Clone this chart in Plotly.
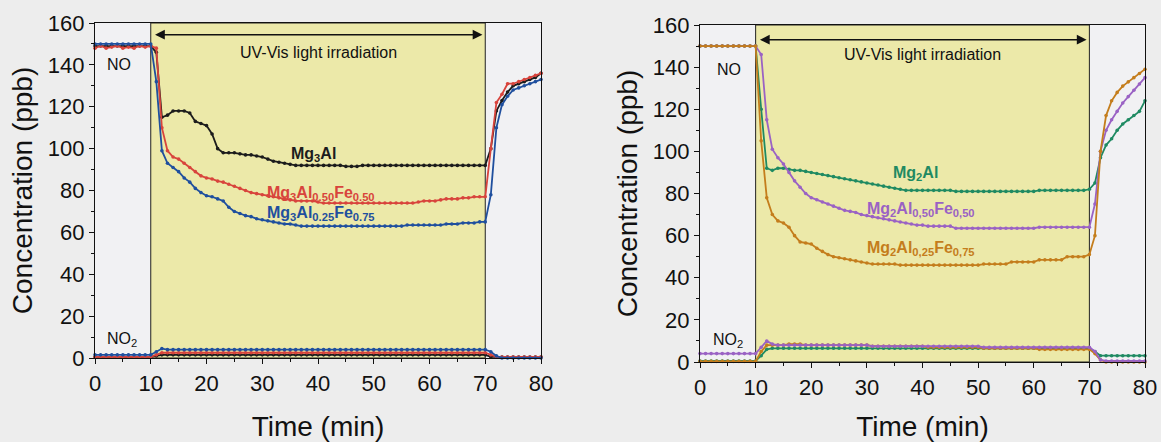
import plotly.graph_objects as go

# ---------------- data ----------------
time_min = list(range(0, 81))

# Left panel (Mg3Al series), NO
no_mg3al = [149, 149, 149, 149, 149, 149, 149, 149, 149, 149, 149,
            146, 115, 116, 118, 118, 118, 117, 113, 112, 111,
            107, 100, 98, 98, 98, 97.5, 97, 97, 96.5, 96,
            95, 94, 93.5, 93, 92.5, 92, 92, 92, 92, 92,
            92, 92, 92, 92, 91.5, 91.5, 91.5, 92, 92, 92,
            92, 92, 92, 92, 92, 92, 92, 92, 92, 92,
            92, 92, 92, 92, 92, 92, 92, 92, 92, 92,
            100, 118, 123, 127, 130, 131, 132, 133, 134, 136]
no_mg3al_fe050 = [148, 149, 148, 148.5, 149, 148, 148.5, 148, 149, 148.5, 149,
                  148, 110, 99, 96, 95, 93, 91, 89, 87, 86,
                  85.5, 84.5, 84, 83, 82, 81, 80, 79, 78.5, 78,
                  77.5, 77, 76.5, 76, 75.5, 75, 75, 75, 75, 74.5,
                  74, 74, 74, 74, 74, 74, 74, 74, 74, 74,
                  74, 74, 74, 74, 74, 74, 74, 74.5, 75, 75,
                  75, 75.5, 76, 76, 76, 76.5, 76.5, 77, 77, 77,
                  100, 122, 126, 131, 131, 132, 133, 134, 135, 136]
no_mg3al_fe075 = [150, 150, 150, 150, 150, 150, 150, 150, 150, 150, 150,
                  132, 99, 93, 91, 89, 86, 84, 81, 79, 77.5,
                  77, 76, 75, 72, 70, 69, 68, 67.5, 66.5, 66,
                  65.5, 65, 64.5, 64, 64, 63.5, 63, 63, 63, 63,
                  63, 63, 63, 63, 63, 63, 63, 63, 63, 63,
                  63, 63, 63, 63, 63, 63.5, 63.5, 63.5, 63.5, 63.5,
                  63.5, 63.5, 64, 64, 64, 64.5, 64.5, 64.5, 65, 65,
                  78, 110, 121, 125, 128, 129, 130, 131, 132, 133]

# Left panel, NO2
no2_mg3al = [0.5, 0.5, 0.5, 0.5, 0.5, 0.5, 0.5, 0.5, 0.5, 0.5, 0.5,
             1, 1.5, 1.5, 1.5, 1.5, 1.5, 1.5, 1.5, 1.5, 1.5,
             1.5, 1.5, 1.5, 1.5, 1.5, 1.5, 1.5, 1.5, 1.5, 1.5,
             1.5, 1.5, 1.5, 1.5, 1.5, 1.5, 1.5, 1.5, 1.5, 1.5,
             1.5, 1.5, 1.5, 1.5, 1.5, 1.5, 1.5, 1.5, 1.5, 1.5,
             1.5, 1.5, 1.5, 1.5, 1.5, 1.5, 1.5, 1.5, 1.5, 1.5,
             1.5, 1.5, 1.5, 1.5, 1.5, 1.5, 1.5, 1.5, 1.5, 1.5,
             0.5, 0.5, 0.5, 0.5, 0.5, 0.5, 0.5, 0.5, 0.5, 0.5]
no2_mg3al_fe050 = [0.5, 0.5, 0.5, 0.5, 0.5, 0.5, 0.5, 0.5, 0.5, 0.5, 0.5,
                   1.5, 2.5, 2.5, 2.5, 2.5, 2.5, 2.5, 2.5, 2.5, 2.5,
                   2.5, 2.5, 2.5, 2.5, 2.5, 2.5, 2.5, 2.5, 2.5, 2.5,
                   2.5, 2.5, 2.5, 2.5, 2.5, 2.5, 2.5, 2.5, 2.5, 2.5,
                   2.5, 2.5, 2.5, 2.5, 2.5, 2.5, 2.5, 2.5, 2.5, 2.5,
                   2.5, 2.5, 2.5, 2.5, 2.5, 2.5, 2.5, 2.5, 2.5, 2.5,
                   2.5, 2.5, 2.5, 2.5, 2.5, 2.5, 2.5, 2.5, 2.5, 2.5,
                   1.5, 0.5, 0.5, 0.5, 0.5, 0.5, 0.5, 0.5, 0.5, 0.5]
no2_mg3al_fe075 = [1.5, 1.5, 1.5, 1.5, 1.5, 1.5, 1.5, 1.5, 1.5, 1.5, 1.5,
                   3, 4.5, 4, 4, 4, 4, 4, 4, 4, 4,
                   4, 4, 4, 4, 4, 4, 4, 4, 4, 4,
                   4, 4, 4, 4, 4, 4, 4, 4, 4, 4,
                   4, 4, 4, 4, 4, 4, 4, 4, 4, 4,
                   4, 4, 4, 4, 4, 4, 4, 4, 4, 4,
                   4, 4, 4, 4, 4, 4, 4, 4, 4, 4,
                   3, 1, 0, 0, 0, 0, 0, 0, 0, 0]

# Right panel (Mg2Al series), NO
no_mg2al = [150, 150, 150, 150, 150, 150, 150, 150, 150, 150, 150,
            120, 92, 91, 92, 92, 91.5, 91, 91, 90.5, 90,
            89.5, 89, 88.5, 88, 87.5, 87, 86.5, 86, 85.5, 85,
            84.5, 84, 83.5, 83, 82.5, 82, 81.5, 81.5, 81.5, 81.5,
            81.5, 81.5, 81.5, 81.5, 81.5, 81, 81, 81, 81, 81,
            81, 81, 81, 81, 81, 81, 81, 81, 81, 81,
            81.5, 81.5, 81.5, 81.5, 81.5, 81.5, 81.5, 81.5, 81.5, 82,
            85, 97, 103, 106, 110, 113, 115, 117, 119, 124]
no_mg2al_fe050 = [150, 150, 150, 150, 150, 150, 150, 150, 150, 150, 150,
                  146, 115, 101, 97, 94, 90, 86, 83, 80, 78,
                  77, 76, 75, 74, 73, 72, 71.5, 71, 70, 69.5,
                  69, 68.5, 68, 67.5, 67, 66.5, 66, 65.5, 65, 65,
                  64.5, 64.5, 64.5, 64.5, 64.5, 63.5, 63.5, 63.5, 63.5, 63.5,
                  63.5, 63.5, 63.5, 63.5, 63.5, 63.5, 63.5, 63.5, 63.5, 63.5,
                  64, 64, 64, 64, 64, 64, 64, 64, 64, 64,
                  75, 100, 110, 115, 119, 123, 126, 129, 132, 135]
no_mg2al_fe075 = [150, 150, 150, 150, 150, 150, 150, 150, 150, 150, 150,
                  105, 78, 70, 67, 66, 64, 60, 57, 56.5, 56,
                  54, 52.5, 51, 50, 49.5, 49, 48.5, 48, 47.5, 47,
                  46.5, 46.5, 46.5, 46.5, 46.5, 46, 46, 46, 46, 46,
                  46, 46, 46, 46, 46, 46, 46, 46, 46, 46,
                  46.5, 46.5, 46.5, 46.5, 46.5, 47.5, 47.5, 47.5, 47.5, 47.5,
                  48.5, 48.5, 48.5, 48.5, 48.5, 50, 50, 50, 50, 51,
                  60, 100, 117, 124, 128, 131, 133, 135, 137, 139]

# Right panel, NO2
no2_mg2al = [0.5, 0.5, 0.5, 0.5, 0.5, 0.5, 0.5, 0.5, 0.5, 0.5, 0.5,
             3, 6, 6.5, 6.5, 6.5, 6.5, 6.5, 6.5, 6.5, 6.5,
             6.5, 6.5, 6.5, 6.5, 6.5, 6.5, 6.5, 6.5, 6.5, 6.5,
             6.5, 6.5, 6.5, 6.5, 6.5, 6.5, 6.5, 6.5, 6.5, 6.5,
             6.5, 6.5, 6.5, 6.5, 6.5, 6.5, 6.5, 6.5, 6.5, 6.5,
             6.5, 6.5, 6.5, 6.5, 6.5, 6.5, 6.5, 6.5, 6.5, 6.5,
             6.5, 6.5, 6.5, 6.5, 6.5, 6.5, 6.5, 6.5, 6.5, 6.5,
             5, 3, 3, 3, 3, 3, 3, 3, 3, 3]
no2_mg2al_fe050 = [4, 4, 4, 4, 4, 4, 4, 4, 4, 4, 4,
                   7, 10, 8.5, 8, 8, 8, 8, 8, 8, 8,
                   8, 8, 8, 8, 8, 8, 8, 8, 8, 8,
                   7.5, 7.5, 7.5, 7.5, 7.5, 7.5, 7.5, 7.5, 7.5, 7.5,
                   7.5, 7.5, 7.5, 7.5, 7.5, 7.5, 7.5, 7.5, 7.5, 7.5,
                   7, 7, 7, 7, 7, 7, 7, 7, 7, 7,
                   7, 7, 7, 7, 7, 7, 7, 7, 7, 7,
                   5, 1, 0.5, 0.5, 0.5, 0.5, 0.5, 0.5, 0.5, 0.5]
no2_mg2al_fe075 = [0.3, 0.3, 0.3, 0.3, 0.3, 0.3, 0.3, 0.3, 0.3, 0.3, 0.3,
                   5, 8, 8, 8, 8, 8.5, 8.5, 8.5, 8, 8,
                   8, 8, 8, 8, 8, 8, 8, 8, 8, 8,
                   7.5, 7.5, 7.5, 7.5, 7.5, 7.5, 7.5, 7.5, 7.5, 7.5,
                   7, 7, 7, 7, 7, 7, 7, 7, 7, 7,
                   6.5, 6.5, 6.5, 6.5, 6.5, 6.5, 6.5, 6.5, 6.5, 6.5,
                   6, 6, 6, 6, 6, 6, 6, 6, 6, 6,
                   4, 1, 0, 0, 0, 0, 0, 0, 0, 0]

x_ticks = [0, 10, 20, 30, 40, 50, 60, 70, 80]
y_ticks = [0, 20, 40, 60, 80, 100, 120, 140, 160]
light_on, light_off = 10, 70

# ---------------- styles ----------------
C_BLACK = "#1c1c1c"
C_RED = "#d8443c"
C_BLUE = "#1f4f9e"
C_GREEN = "#1f8a62"
C_PURPLE = "#9a62c4"
C_ORANGE = "#c47d1c"
YELLOW = "#ece9a9"
FONT = "Liberation Sans, Arial, sans-serif"

fig = go.Figure()


def add_series(y, color, xa, ya):
    fig.add_trace(go.Scatter(
        x=time_min, y=y, mode="lines+markers", xaxis=xa, yaxis=ya,
        line=dict(color=color, width=1.8),
        marker=dict(color=color, size=3.6),
        showlegend=False, cliponaxis=False))


# left panel
add_series(no2_mg3al, C_BLACK, "x", "y")
add_series(no2_mg3al_fe050, C_RED, "x", "y")
add_series(no2_mg3al_fe075, C_BLUE, "x", "y")
add_series(no_mg3al, C_BLACK, "x", "y")
add_series(no_mg3al_fe050, C_RED, "x", "y")
add_series(no_mg3al_fe075, C_BLUE, "x", "y")
# right panel
add_series(no2_mg2al, C_GREEN, "x2", "y2")
add_series(no2_mg2al_fe075, C_ORANGE, "x2", "y2")
add_series(no2_mg2al_fe050, C_PURPLE, "x2", "y2")
add_series(no_mg2al, C_GREEN, "x2", "y2")
add_series(no_mg2al_fe050, C_PURPLE, "x2", "y2")
add_series(no_mg2al_fe075, C_ORANGE, "x2", "y2")

# shaded light periods
for xr, yr in (("x", "y"), ("x2", "y2")):
    fig.add_shape(type="rect", xref=xr, yref=yr, x0=light_on, x1=light_off,
                  y0=0, y1=160, fillcolor=YELLOW,
                  line=dict(color="#222222", width=1), layer="below")


def axis_common(domain, tickvals, rng, dtick_minor, title, standoff):
    return dict(domain=domain, range=rng, tickvals=tickvals,
                ticks="outside", ticklen=5, tickwidth=1.2, tickcolor="#111",
                showline=True, linecolor="#111", linewidth=1.2, mirror=True,
                showgrid=False, zeroline=False,
                minor=dict(ticks="outside", ticklen=3, tickwidth=1,
                           tickcolor="#111", dtick=dtick_minor, showgrid=False),
                tickfont=dict(family=FONT, size=22, color="#111"),
                title=dict(text=title, font=dict(family=FONT, size=28, color="#111"),
                           standoff=standoff),
                automargin=False)


W, H = 1161, 442
fig.update_layout(
    width=W, height=H, autosize=False,
    margin=dict(l=0, r=0, t=0, b=0),
    paper_bgcolor="#ededed", plot_bgcolor="#f1f1f3",
    xaxis=dict(**axis_common([95 / W, 541 / W], x_ticks, [0, 80], 5, "Time (min)", 22), anchor="y"),
    yaxis=dict(**axis_common([1 - 358 / H, 1 - 23 / H], y_ticks, [0, 160], 10, "Concentration (ppb)", 6), anchor="x"),
    xaxis2=dict(**axis_common([700 / W, 1145 / W], x_ticks, [0, 80], 5, "Time (min)", 22), anchor="y2"),
    yaxis2=dict(**axis_common([1 - 362 / H, 1 - 25 / H], y_ticks, [0, 160], 10, "Concentration (ppb)", 6), anchor="x2"),
)

# annotations
ann = []
panels = [
    ("x", "y", 154.4, [
        ("Mg<sub>3</sub>Al", 39.2, 97, C_BLACK),
        ("Mg<sub>3</sub>Al<sub>0.50</sub>Fe<sub>0.50</sub>", 40.5, 78.6, C_RED),
        ("Mg<sub>3</sub>Al<sub>0.25</sub>Fe<sub>0.75</sub>", 40.5, 69, C_BLUE),
    ], (4.3, 140), (4.8, 9)),
    ("x2", "y2", 153, [
        ("Mg<sub>2</sub>Al", 38.7, 89.6, C_GREEN),
        ("Mg<sub>2</sub>Al<sub>0,50</sub>Fe<sub>0,50</sub>", 39.7, 72.2, C_PURPLE),
        ("Mg<sub>2</sub>Al<sub>0,25</sub>Fe<sub>0,75</sub>", 39.7, 53.9, C_ORANGE),
    ], (5.3, 139), (5.0, 10.3)),
]
for xr, yr, arrow_y, labels, no_pos, no2_pos in panels:
    # double-headed arrow for irradiation period
    ann.append(dict(xref=xr, yref=yr, axref=xr, ayref=yr,
                    x=light_off - 0.5, y=arrow_y, ax=light_on + 0.5, ay=arrow_y,
                    text="", showarrow=True, arrowhead=2, startarrowhead=2,
                    arrowside="end+start", arrowsize=1.3, arrowwidth=1.5,
                    arrowcolor="#111"))
    ann.append(dict(xref=xr, yref=yr, x=40, y=146, text="UV-Vis light irradiation",
                    showarrow=False, font=dict(family=FONT, size=16, color="#111")))
    ann.append(dict(xref=xr, yref=yr, x=no_pos[0], y=no_pos[1], text="NO",
                    showarrow=False, font=dict(family=FONT, size=16, color="#111")))
    ann.append(dict(xref=xr, yref=yr, x=no2_pos[0], y=no2_pos[1], text="NO<sub>2</sub>",
                    showarrow=False, font=dict(family=FONT, size=16, color="#111")))
    for txt, lx, ly, col in labels:
        ann.append(dict(xref=xr, yref=yr, x=lx, y=ly, text="<b>" + txt + "</b>",
                        showarrow=False, font=dict(family=FONT, size=16, color=col)))
fig.update_layout(annotations=ann)

fig.write_html("out.html", config={"displayModeBar": False},
               post_script="document.body.style.margin='0px';document.body.style.padding='0px';document.body.style.overflow='hidden';")
